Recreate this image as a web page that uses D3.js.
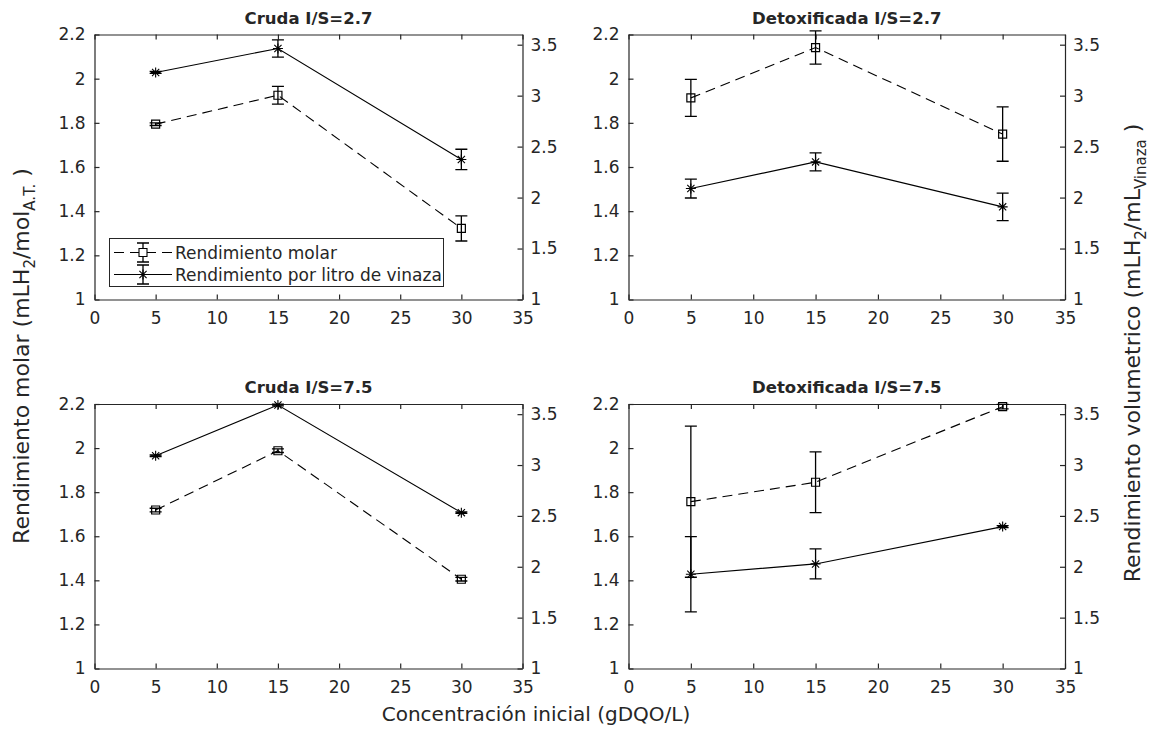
<!DOCTYPE html>
<html>
<head>
<meta charset="utf-8">
<script src="https://cdn.jsdelivr.net/npm/d3@7"></script>
<style>
  html, body { margin: 0; padding: 0; background: #fff; }
  svg { display: block; }
  text { font-family: "DejaVu Sans", sans-serif; fill: #262626; }
</style>
</head>
<body>
<svg id="chart" width="1158" height="729"></svg>
<script>
// Initial COD concentration (g DQO/L)
const concentrations = [5, 15, 30];

const panelTitles = ["Cruda I/S=2.7", "Detoxificada I/S=2.7", "Cruda I/S=7.5", "Detoxificada I/S=7.5"];

// Molar yield (mL H2 / mol A.T.), left axis
const molarYield = [
  [1.794, 1.925, 1.322],
  [1.913, 2.141, 1.749],
  [1.719, 1.988, 1.405],
  [1.757, 1.845, 2.188]
];
const molarErr = [
  [0.006, 0.040, 0.057],
  [0.084, 0.075, 0.123],
  [0.008, 0.008, 0.008],
  [0.343, 0.138, 0.010]
];

// Volumetric yield (mL H2 / mL vinaza), right axis
const volYield = [
  [3.228, 3.463, 2.374],
  [2.089, 2.350, 1.909],
  [3.092, 3.590, 2.532],
  [1.927, 2.028, 2.395]
];
const volErr = [
  [0.010, 0.085, 0.100],
  [0.093, 0.088, 0.135],
  [0.008, 0.008, 0.008],
  [0.370, 0.147, 0.010]
];

const xTicks = [0, 5, 10, 15, 20, 25, 30, 35];
const leftTicks = [1, 1.2, 1.4, 1.6, 1.8, 2, 2.2];
const rightTicks = [1, 1.5, 2, 2.5, 3, 3.5];
const legendLabels = ["Rendimiento molar", "Rendimiento por litro de vinaza"];

const axisColor = "#262626";
const tickFont = 17;

const svg = d3.select("#chart");

// Panel boxes [left, right, top, bottom]
const panels = [
  [94.5, 522.5, 34.5, 299.5],
  [628.5, 1065, 34.5, 299.5],
  [94.5, 522.5, 404, 668.5],
  [628.5, 1065, 404, 668.5]
];

function starPath(s) {
  const d = s * 0.72;
  return `M${-s},0L${s},0M0,${-s}L0,${s}M${-d},${-d}L${d},${d}M${-d},${d}L${d},${-d}`;
}
function squarePath(s) {
  return `M${-s},${-s}H${s}V${s}H${-s}Z`;
}
function errorBar(g, x, y0, y1, cap) {
  g.append("path")
    .attr("d", `M${x},${y0}V${y1}M${x - cap},${y0}H${x + cap}M${x - cap},${y1}H${x + cap}`)
    .attr("fill", "none").attr("stroke", "#000").attr("stroke-width", 1.3);
}

panels.forEach((box, i) => {
  const [L, R, T, B] = box;
  const x = d3.scaleLinear().domain([0, 35]).range([L, R]);
  const yL = d3.scaleLinear().domain([1, 2.2]).range([B, T]);
  const yR = d3.scaleLinear().domain([1, 3.6]).range([B, T]);
  const g = svg.append("g");

  // axes with inward ticks
  const styleAxis = sel => {
    sel.select(".domain").attr("stroke", axisColor).attr("stroke-width", 1.2);
    sel.selectAll(".tick line").attr("stroke", axisColor).attr("stroke-width", 1.2);
    sel.selectAll("text").attr("font-size", tickFont).attr("font-family", "DejaVu Sans").attr("fill", axisColor);
  };
  g.append("g").attr("transform", `translate(0,${B})`)
    .call(d3.axisBottom(x).tickValues(xTicks).tickFormat(d3.format("~g")).tickSize(-5).tickPadding(12).tickSizeOuter(0))
    .call(styleAxis);
  g.append("g").attr("transform", `translate(0,${T})`)
    .call(d3.axisTop(x).tickValues(xTicks).tickFormat("").tickSize(-5).tickSizeOuter(0))
    .call(styleAxis);
  g.append("g").attr("transform", `translate(${L},0)`)
    .call(d3.axisLeft(yL).tickValues(leftTicks).tickFormat(d3.format("~g")).tickSize(-5).tickPadding(9).tickSizeOuter(0))
    .call(styleAxis);
  g.append("g").attr("transform", `translate(${R},0)`)
    .call(d3.axisRight(yR).tickValues(rightTicks).tickFormat(d3.format("~g")).tickSize(-5).tickPadding(8).tickSizeOuter(0))
    .call(styleAxis);

  // title
  g.append("text").attr("x", (L + R) / 2).attr("y", T - 11)
    .attr("text-anchor", "middle").attr("font-size", 16.5).attr("font-weight", "bold")
    .attr("fill", "#000").text(panelTitles[i]);

  // molar series: dashed line, squares
  const pts1 = concentrations.map((c, k) => [x(c), yL(molarYield[i][k])]);
  g.append("path").attr("d", d3.line()(pts1)).attr("fill", "none")
    .attr("stroke", "#000").attr("stroke-width", 1.1).attr("stroke-dasharray", "10,6");
  concentrations.forEach((c, k) => {
    errorBar(g, x(c), yL(molarYield[i][k] + molarErr[i][k]), yL(molarYield[i][k] - molarErr[i][k]), 6);
    g.append("path").attr("d", squarePath(4)).attr("transform", `translate(${x(c)},${yL(molarYield[i][k])})`)
      .attr("fill", "none").attr("stroke", "#000").attr("stroke-width", 1.2);
  });

  // volumetric series: solid line, asterisks
  const pts2 = concentrations.map((c, k) => [x(c), yR(volYield[i][k])]);
  g.append("path").attr("d", d3.line()(pts2)).attr("fill", "none")
    .attr("stroke", "#000").attr("stroke-width", 1.1);
  concentrations.forEach((c, k) => {
    errorBar(g, x(c), yR(volYield[i][k] + volErr[i][k]), yR(volYield[i][k] - volErr[i][k]), 6);
    g.append("path").attr("d", starPath(5)).attr("transform", `translate(${x(c)},${yR(volYield[i][k])})`)
      .attr("fill", "none").attr("stroke", "#000").attr("stroke-width", 1.1);
  });

  // legend in the first panel
  if (i === 0) {
    const lg = g.append("g");
    lg.append("rect").attr("x", 109.5).attr("y", 238.5).attr("width", 334).attr("height", 48)
      .attr("fill", "#fff").attr("stroke", axisColor).attr("stroke-width", 1);
    const rows = [252.5, 274.5];
    rows.forEach((ry, r) => {
      lg.append("path").attr("d", `M114,${ry}H172`).attr("stroke", "#000").attr("stroke-width", 1.1)
        .attr("stroke-dasharray", r === 0 ? "10,6" : null).attr("fill", "none");
      errorBar(lg, 143, ry - 9.5, ry + 9.5, 6);
      lg.append("path").attr("d", r === 0 ? squarePath(4) : starPath(5))
        .attr("transform", `translate(143,${ry})`).attr("fill", r === 0 ? "#fff" : "none")
        .attr("stroke", "#000").attr("stroke-width", 1.1);
      lg.append("text").attr("x", 175).attr("y", ry + 6).attr("font-size", 17)
        .attr("fill", "#000").text(legendLabels[r]);
    });
  }
});

// shared axis labels
svg.append("text").attr("x", 536).attr("y", 721).attr("text-anchor", "middle")
  .attr("font-size", 20).text("Concentración inicial (gDQO/L)");

const leftLabel = svg.append("text").attr("text-anchor", "middle")
  .attr("transform", "translate(29,356) rotate(-90)").attr("font-size", 22);
leftLabel.append("tspan").text("Rendimiento molar (mLH");
leftLabel.append("tspan").attr("font-size", 15).attr("dy", 6).text("2");
leftLabel.append("tspan").attr("dy", -6).text("/mol");
leftLabel.append("tspan").attr("font-size", 15).attr("dy", 6).text("A.T.");
leftLabel.append("tspan").attr("dy", -6).text(" )");

const rightLabel = svg.append("text").attr("text-anchor", "middle")
  .attr("transform", "translate(1140,353) rotate(-90)").attr("font-size", 22);
rightLabel.append("tspan").text("Rendimiento volumetrico (mLH");
rightLabel.append("tspan").attr("font-size", 15).attr("dy", 6).text("2");
rightLabel.append("tspan").attr("dy", -6).text("/mL");
rightLabel.append("tspan").attr("font-size", 15).attr("dy", 6).text("Vinaza");
rightLabel.append("tspan").attr("dy", -6).text(" )");
</script>
</body>
</html>
